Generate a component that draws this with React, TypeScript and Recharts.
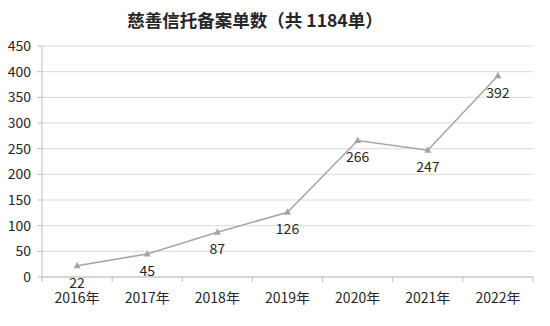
import React from 'react';
import { LineChart, Line, XAxis, YAxis, CartesianGrid, LabelList } from 'recharts';

const years = ['2016年', '2017年', '2018年', '2019年', '2020年', '2021年', '2022年'];
const counts = [22, 45, 87, 126, 266, 247, 392];
const yTicks = [0, 50, 100, 150, 200, 250, 300, 350, 400, 450];

const data = years.map((year, i) => ({ year, count: counts[i] }));

const FONT = '"Noto Sans CJK SC", "Noto Sans", sans-serif';
const W = 550;
const H = 326;
const margin = { top: 46, right: 17, bottom: 0, left: 0 };
const Y_W = 42;
const plotW = W - margin.left - margin.right - Y_W;
const band = plotW / years.length;

const Triangle = (props: any) => {
    const { cx, cy } = props;
    if (cx == null || cy == null) return null;
    return <path d={`M${cx},${cy - 4} L${cx + 3.5},${cy + 2.5} L${cx - 3.5},${cy + 2.5} Z`} fill="#a5a5a5" />;
};

const XTick = (props: any) => {
    const { x, y, payload, index } = props;
    const left = x - band / 2;
    return (
        <g>
            <line x1={left} y1={y - 8} x2={left} y2={y - 3} stroke="#bfbfbf" />
            {index === years.length - 1 && (
                <line x1={left + band} y1={y - 8} x2={left + band} y2={y - 3} stroke="#bfbfbf" />
            )}
            <text x={x} y={y + 18} textAnchor="middle" fontSize={14} fill="#262626" fontFamily={FONT}>
                {payload.value}
            </text>
        </g>
    );
};

const PointLabel = (props: any) => {
    const { x, y, value } = props;
    return (
        <text x={x} y={y + 16} textAnchor="middle" dominantBaseline="central" fontSize={14} fill="#262626" fontFamily={FONT}>
            {value}
        </text>
    );
};

export default function App() {
    return (
        <div style={{ position: 'fixed', left: 0, top: 0, width: W, height: H, background: '#fff' }}>
            <div
                style={{
                    position: 'absolute',
                    top: 7,
                    left: 0,
                    width: 510,
                    textAlign: 'center',
                    fontFamily: FONT,
                    fontWeight: 'bold',
                    fontSize: 17.5,
                    color: '#262626',
                }}
            >
                慈善信托备案单数（共 1184单）
            </div>
            <LineChart width={W} height={H} data={data} margin={margin}>
                <CartesianGrid vertical={false} stroke="#d9d9d9" />
                <XAxis
                    dataKey="year"
                    scale="band"
                    height={49}
                    axisLine={{ stroke: '#bfbfbf' }}
                    tickLine={false}
                    tick={<XTick />}
                    interval={0}
                />
                <YAxis
                    width={Y_W}
                    domain={[0, 450]}
                    ticks={yTicks}
                    interval={0}
                    axisLine={{ stroke: '#bfbfbf' }}
                    tickLine={{ stroke: '#bfbfbf' }}
                    tickSize={5}
                    tickMargin={6}
                    tick={{ fontSize: 14, fill: '#262626', fontFamily: FONT }}
                />
                <Line
                    type="linear"
                    dataKey="count"
                    stroke="#a5a5a5"
                    strokeWidth={1.5}
                    dot={<Triangle />}
                    activeDot={false}
                    isAnimationActive={false}
                >
                    <LabelList dataKey="count" content={<PointLabel />} />
                </Line>
            </LineChart>
        </div>
    );
}
